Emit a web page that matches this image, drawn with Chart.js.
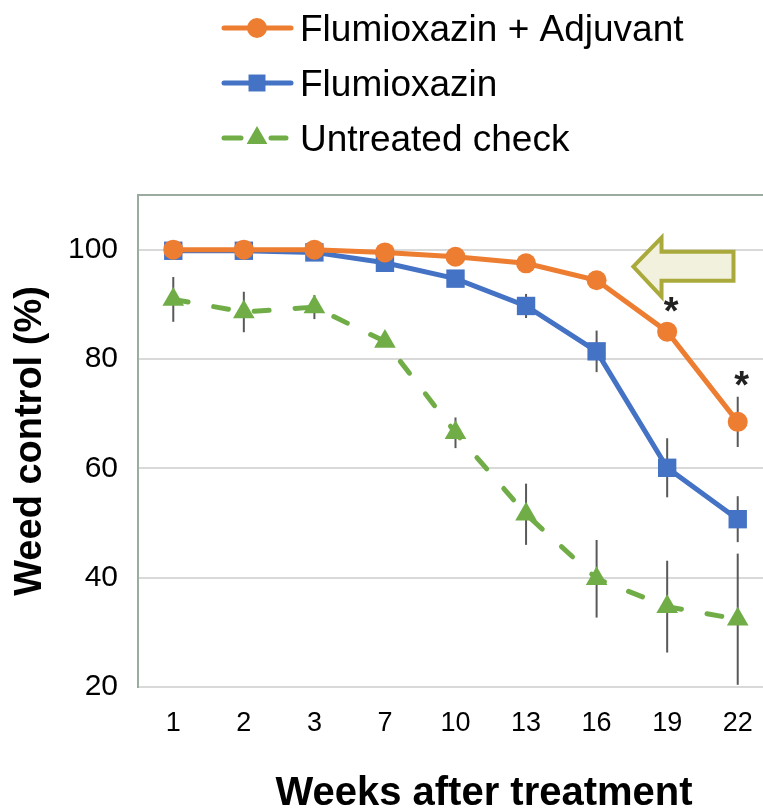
<!DOCTYPE html>
<html>
<head>
<meta charset="utf-8">
<script src="https://cdn.jsdelivr.net/npm/chart.js@4"></script>
<style>
  html, body { margin: 0; padding: 0; background: #fff; overflow: hidden; }
  #wrap { width: 786px; height: 811px; }
</style>
</head>
<body>
<div id="wrap"><canvas id="myChart"></canvas></div>
<script>
let weeks = ['1', '2', '3', '7', '10', '13', '16', '19', '22'];
let adjuvant = [100, 100, 100, 99.5, 98.7, 97.5, 94.4, 85.0, 68.5];
let adjuvantErr = [0, 0, 0, 0, 0, 0, 0, 1.5, 4.6];
let flumioxazin = [99.8, 99.8, 99.5, 97.6, 94.7, 89.7, 81.4, 60.1, 50.7];
let flumioxazinErr = [0, 0, 0, 0.5, 1.2, 2.2, 3.8, 5.4, 4.2];
let untreated = [90.9, 88.6, 89.5, 83.2, 66.5, 51.6, 39.8, 34.7, 32.4];
let untreatedErr = [4.1, 3.7, 2.2, 1.0, 2.8, 5.6, 7.1, 8.4, 12.0];
let significant = [false, false, false, false, false, false, false, true, true];
let yTicks = [20, 40, 60, 80, 100];

const FONT = '"Liberation Sans", Arial, sans-serif';
const ORANGE = '#ED7D31', BLUE = '#4472C4', GREEN = '#70AD47';

// error bars go behind the markers
const errorBars = {
    id: 'errorBars',
    beforeDatasetsDraw(chart) {
        const ctx = chart.ctx;
        const xs = chart.scales.x, ys = chart.scales.y;
        ctx.save();
        ctx.strokeStyle = '#595959';
        ctx.lineWidth = 2;
        chart.data.datasets.forEach(ds => {
            ds.data.forEach((v, j) => {
                const e = ds.errors[j];
                if (!e) return;
                const x = xs.getPixelForValue(j);
                ctx.beginPath();
                ctx.moveTo(x, ys.getPixelForValue(v + e));
                ctx.lineTo(x, ys.getPixelForValue(v - e));
                ctx.stroke();
            });
        });
        ctx.restore();
    }
};

const extras = {
    id: 'extras',
    afterDraw(chart) {
        const ctx = chart.ctx;
        const xs = chart.scales.x, ys = chart.scales.y;
        const area = chart.chartArea;
        ctx.save();

        // top frame line
        ctx.strokeStyle = '#9aab9f';
        ctx.lineWidth = 2;
        ctx.beginPath();
        ctx.moveTo(area.left, area.top);
        ctx.lineTo(area.right, area.top);
        ctx.stroke();

        // significance stars
        ctx.fillStyle = '#222';
        ctx.font = 'bold 38px ' + FONT;
        ctx.textAlign = 'center';
        ctx.textBaseline = 'alphabetic';
        significant.forEach((s, j) => {
            if (!s) return;
            const x = xs.getPixelForValue(j) + 4;
            const y = ys.getPixelForValue(adjuvant[j] + adjuvantErr[j]) - 20;
            ctx.fillText('*', x, y + 21);
        });

        // arrow pointing left
        const px = v => xs.getPixelForValue(v), py = v => ys.getPixelForValue(v);
        ctx.beginPath();
        ctx.moveTo(px(6.52), py(96.9));
        ctx.lineTo(px(6.92), py(102.2));
        ctx.lineTo(px(6.92), py(99.6));
        ctx.lineTo(px(7.94), py(99.6));
        ctx.lineTo(px(7.94), py(94.3));
        ctx.lineTo(px(6.92), py(94.3));
        ctx.lineTo(px(6.92), py(91.4));
        ctx.closePath();
        ctx.fillStyle = '#f2f1dd';
        ctx.fill();
        ctx.strokeStyle = '#aaaa3c';
        ctx.lineWidth = 4;
        ctx.lineJoin = 'miter';
        ctx.stroke();

        // legend
        const rows = [
            { label: 'Flumioxazin + Adjuvant', color: ORANGE, style: 'circle', r: 10, y: 28, dashed: false },
            { label: 'Flumioxazin', color: BLUE, style: 'rect', r: 12, y: 83, dashed: false },
            { label: 'Untreated check', color: GREEN, style: 'triangle', r: 12, y: 138, dashed: true }
        ];
        rows.forEach(row => {
            ctx.strokeStyle = row.color;
            ctx.lineWidth = 5;
            ctx.lineCap = 'round';
            ctx.beginPath();
            if (row.dashed) {
                ctx.moveTo(224, row.y); ctx.lineTo(241, row.y);
                ctx.moveTo(271, row.y); ctx.lineTo(286, row.y);
            } else {
                ctx.moveTo(224, row.y); ctx.lineTo(291, row.y);
            }
            ctx.stroke();
            ctx.fillStyle = row.color;
            Chart.helpers.drawPoint(ctx, { pointStyle: row.style, radius: row.r, rotation: 0, borderWidth: 0 }, 257, row.y);
            ctx.fillStyle = '#000';
            ctx.font = '37px ' + FONT;
            ctx.textAlign = 'left';
            ctx.fillText(row.label, 300, row.y + 13);
        });

        // x axis title
        ctx.fillStyle = '#000';
        ctx.font = 'bold 40px ' + FONT;
        ctx.textAlign = 'center';
        ctx.fillText('Weeks after treatment', 484, 805);
        ctx.restore();
    }
};

new Chart(document.getElementById('myChart'), {
    type: 'line',
    data: {
        labels: weeks,
        datasets: [
            {
                label: 'Flumioxazin + Adjuvant',
                data: adjuvant,
                errors: adjuvantErr,
                borderColor: ORANGE,
                backgroundColor: ORANGE,
                borderWidth: 5,
                pointStyle: 'circle',
                pointRadius: 10,
                pointBorderWidth: 0,
                tension: 0
            },
            {
                label: 'Flumioxazin',
                data: flumioxazin,
                errors: flumioxazinErr,
                borderColor: BLUE,
                backgroundColor: BLUE,
                borderWidth: 5,
                pointStyle: 'rect',
                pointRadius: 13,
                pointBorderWidth: 0,
                tension: 0
            },
            {
                label: 'Untreated check',
                data: untreated,
                errors: untreatedErr,
                borderColor: GREEN,
                backgroundColor: GREEN,
                borderWidth: 5,
                borderDash: [15, 26],
                borderCapStyle: 'round',
                pointStyle: 'triangle',
                pointRadius: 12.5,
                pointBorderWidth: 0,
                tension: 0
            }
        ]
    },
    options: {
        responsive: true,
        maintainAspectRatio: false,
        animation: false,
        layout: { padding: { top: 195, right: 8, left: 0, bottom: 0 } },
        plugins: {
            legend: { display: false },
            tooltip: { enabled: false }
        },
        scales: {
            x: {
                offset: true,
                grid: { display: false },
                border: { display: false },
                ticks: {
                    color: '#000',
                    font: { family: FONT, size: 27 },
                    padding: 12,
                    maxRotation: 0,
                    autoSkip: false
                },
                afterFit: s => { s.height = 124; }
            },
            y: {
                min: 20,
                max: 110,
                afterBuildTicks: s => { s.ticks = yTicks.map(v => ({ value: v })); },
                grid: { color: '#d9d9d9', lineWidth: 2, drawTicks: false },
                border: { color: '#9aab9f', width: 2 },
                ticks: {
                    color: '#000',
                    font: { family: FONT, size: 30 },
                    padding: 20
                },
                title: {
                    display: true,
                    text: 'Weed control (%)',
                    color: '#000',
                    font: { family: FONT, size: 38, weight: 'bold' },
                    padding: { top: 8, bottom: 0 }
                },
                afterFit: s => { s.width = 138; }
            }
        }
    },
    plugins: [errorBars, extras]
});
</script>
</body>
</html>
